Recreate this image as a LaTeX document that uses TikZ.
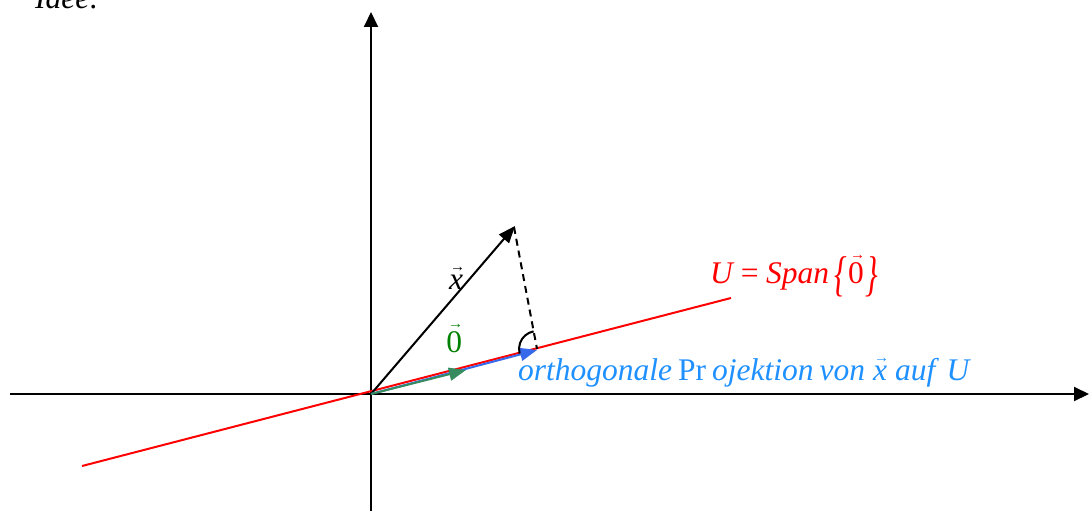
\documentclass[tikz,border=0pt]{standalone}
\usepackage{fontspec}
\setmainfont{Liberation Serif}
\usepackage{graphicx}
\usetikzlibrary{arrows.meta}
\definecolor{projblue}{RGB}{30,144,255}
\definecolor{vecblue}{RGB}{55,105,235}
\definecolor{vecgreen}{RGB}{55,140,95}
\definecolor{txtgreen}{RGB}{0,128,0}
\newcommand\ovarr[1]{\leavevmode\vbox{\offinterlineskip\halign{\hfil##\hfil\cr{\fontsize{15}{15}\selectfont\upshape\hspace{3pt}→}\cr\noalign{\kern3pt}#1\cr}}}
\newcommand\bigbr[1]{\raisebox{-7pt}{\scalebox{1}[1.55]{#1}}}
\newcommand\tsp{\spaceskip=6pt plus 1pt minus 1pt\relax}
\tikzset{
  axis/.style={line width=2pt, -{Triangle[length=15pt,width=14pt]}},
  vecarrow/.style={line width=2pt, -{Triangle[length=17pt,width=13pt]}},
  lbl/.style={inner sep=0pt, anchor=base west, font=\fontsize{31.5}{38}\selectfont\tsp}
}
\begin{document}
\begin{tikzpicture}[x=1pt,y=-1pt]
\useasboundingbox (0,0) rectangle (1089,511);
\coordinate (O) at (371,394);
\coordinate (L) at (10,394);
\coordinate (R) at (1089,394);
\coordinate (Bt) at (371,511);
\coordinate (T) at (371,12);
\coordinate (A) at (82,466);
\coordinate (B) at (731,298);
\coordinate (X) at (515,226);
\coordinate (Xd) at (514,227);
\coordinate (P) at (537,349);
\coordinate (Pb) at (537,350);
\coordinate (G) at (466,370);
% axes
\draw[axis] (L) -- (R);
\draw[axis] (Bt) -- (T);
% span line
\draw[red, line width=2pt] (A) -- (B);
% vectors
\draw[vecarrow, black] (O) -- (X);
\draw[black, line width=2pt, dash pattern=on 7pt off 5pt] (Xd) -- (P);
\draw[vecarrow, vecblue] (O) -- (Pb);
\draw[vecarrow, vecgreen] (O) -- (G);
% right angle arc
\draw[black, line width=2pt] (P) ++(-100.9:18) arc[start angle=-100.9, end angle=-194.5, radius=18];
% labels
\node[lbl] (idee) at (35,9) {\itshape Idee:};
\node[lbl] (xl) at (447,289) {\ovarr{\itshape x}};
\node[lbl, text=txtgreen] (zl) at (445,352) {\ovarr{0}};
\node[lbl, text=red] (ul) at (710,283) {\itshape U = Span\,\bigbr{\{}\ovarr{\upshape 0}\bigbr{\}}};
\node[lbl, text=projblue] (pl) at (518,380) {\itshape orthogonale \upshape Pr \itshape ojektion von \ovarr{x} auf\, U};
\end{tikzpicture}
\end{document}
